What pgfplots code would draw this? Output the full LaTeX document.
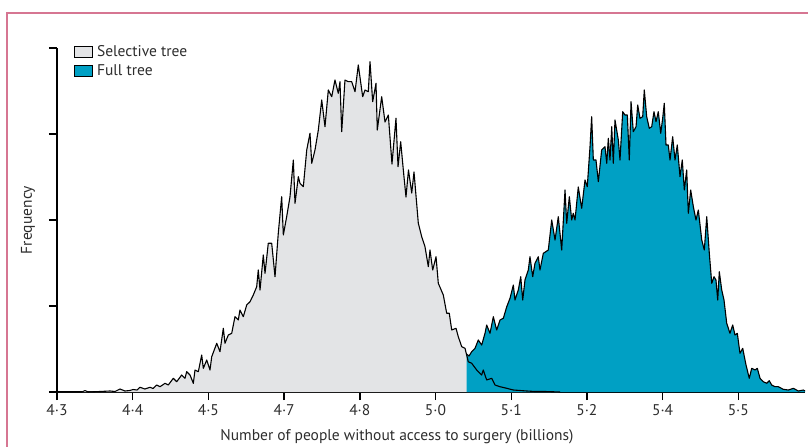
\documentclass[border=0pt]{standalone}
\usepackage{fontspec}
\setmainfont{PT Sans}
\usepackage{pgfplots}
\usepackage{pgfplotstable}
\pgfplotsset{compat=1.18}
\definecolor{selgrey}{RGB}{227,228,230}
\definecolor{fullblue}{RGB}{0,160,196}
\definecolor{framepink}{RGB}{214,118,146}
\definecolor{txt}{RGB}{45,45,45}

\pgfplotstableread{
x y
4.3000 0
4.3238 0
4.3330 0
4.3370 1.5
4.3410 0
4.3568 0.5
4.3700 1
4.3766 0.5
4.3832 3
4.3898 1
4.3964 1.5
4.4004 2.5
4.4057 2
4.4096 4.7
4.4162 3
4.4229 4.7
4.4268 3.5
4.4317 7
4.4361 5.3
4.4427 8.7
4.4470 7
4.4536 13.7
4.4581 10.3
4.4647 17
4.4691 13.7
4.4713 20.3
4.4757 17
4.4801 8.7
4.4823 22
4.4867 20.3
4.4911 37
4.4933 23.7
4.4978 32
4.5021 22
4.5044 35.3
4.5110 48.7
4.5153 40.3
4.5197 63.7
4.5219 48.7
4.5263 57
4.5308 58.7
4.5351 75.3
4.5395 72
4.5417 82
4.5461 75.3
4.5506 87
4.5550 90.3
4.5593 97
4.5638 105.3
4.5659 122
4.5682 102
4.5725 137
4.5748 118.7
4.5791 148.7
4.5836 148.7
4.5880 115.3
4.5923 158.7
4.5968 195.3
4.5990 157
4.6034 175.3
4.6078 195.3
4.6122 232
4.6144 188.7
4.6188 215.3
4.6210 208.7
4.6254 205.3
4.6299 242
4.6342 258.7
4.6365 228.7
4.6408 242
4.6452 262
4.6497 292
4.6540 265.3
4.6584 302
4.6629 295.3
4.6672 312
4.6716 298.7
4.6738 310.3
4.6761 260.3
4.6804 312
4.6848 310.3
4.6893 310.3
4.6937 300.3
4.6980 327
4.7038 295.3
4.7069 302
4.7112 300.3
4.7135 330.3
4.7170 290.3
4.7214 308.7
4.7231 262
4.7289 295.3
4.7333 270
4.7377 277
4.7425 228
4.7478 273.7
4.7505 225.3
4.7540 250.3
4.7575 222
4.7610 195
4.7643 222
4.7686 199
4.7716 220
4.7773 168.7
4.7818 155.3
4.7861 145.3
4.7905 125.3
4.7927 142
4.7963 122
4.8007 135.3
4.8037 108.7
4.8103 97
4.8148 78.7
4.8182 78.7
4.8214 62
4.8271 63.7
4.8301 55.3
4.8346 45.3
4.8390 43.7
4.8433 30.3
4.8478 28.7
4.8544 22
4.8610 17
4.8631 22
4.8676 12
4.8742 13.7
4.8786 7
4.8852 5.3
4.8941 3.7
4.9028 2
4.9116 1.5
4.9205 1
4.9314 0.5
4.9446 0.5
4.9645 0
}\selective

\pgfplotstableread{
x y
4.8410 38
4.8443 36
4.8478 40.3
4.8522 43.7
4.8565 52
4.8610 47
4.8654 58.7
4.8676 67
4.8720 58.7
4.8764 75.3
4.8808 62
4.8852 72
4.8896 73.7
4.8941 85.3
4.8984 93.7
4.9028 107
4.9050 92
4.9094 102
4.9126 115.3
4.9152 92
4.9182 112
4.9226 122
4.9248 135.3
4.9284 115.3
4.9314 128.7
4.9358 135.3
4.9380 122
4.9424 138.7
4.9490 142
4.9535 172
4.9579 152
4.9622 175.3
4.9667 142
4.9711 202
4.9733 168.7
4.9768 195.3
4.9799 172
4.9820 178.7
4.9843 172
4.9886 205
4.9931 183.7
4.9975 212
5.0005 205.3
5.0041 245.3
5.0063 275.3
5.0085 232
5.0120 232
5.0151 210.3
5.0195 242
5.0239 245.3
5.0262 228.7
5.0283 253.7
5.0305 232
5.0328 265.3
5.0349 228.7
5.0371 272
5.0415 252
5.0437 232
5.0473 280.3
5.0503 277
5.0534 277
5.0560 232
5.0583 290.3
5.0613 260.3
5.0649 265.3
5.0671 287
5.0701 273.7
5.0737 275.3
5.0758 302
5.0790 275.3
5.0824 263.7
5.0856 265.3
5.0886 280.3
5.0913 270.3
5.0943 280.3
5.0975 258.7
5.1001 273.7
5.1022 288.7
5.1045 247
5.1075 247
5.1098 232
5.1133 255.3
5.1164 232
5.1194 247
5.1230 215.3
5.1260 232
5.1287 202
5.1318 222
5.1340 178.7
5.1371 202
5.1406 185.3
5.1441 172
5.1472 182
5.1517 152
5.1551 142
5.1583 175.3
5.1617 138.7
5.1649 108.7
5.1679 115.3
5.1705 112
5.1728 92
5.1749 120.3
5.1781 102
5.1811 92
5.1847 68.7
5.1890 58.7
5.1926 67
5.1956 57
5.1987 58.7
5.2022 38.7
5.2058 43.7
5.2102 27
5.2145 13.7
5.2177 23.7
5.2221 22
5.2251 23.7
5.2287 13.7
5.2330 10.3
5.2375 8.7
5.2409 11.3
5.2441 7
5.2485 5.3
5.2528 5.3
5.2594 2.7
5.2661 2
5.2727 3.7
5.2793 1
5.2859 2
5.2881 1
}\fulltree

\begin{document}
\begin{tikzpicture}[font=\fontsize{15.5bp}{18bp}\selectfont]
\path[use as bounding box] (0,0) rectangle (808bp,447bp);
\begin{axis}[
  at={(57bp,55bp)}, anchor=south west,
  scale only axis, width=748bp, height=344bp,
  xmin=4.3, xmax=5.2881, ymin=0, ymax=344,
  axis lines=left,
  axis line style={-, line width=1.4bp, black},
  xtick={4.3,4.4,4.5,4.6,4.7,4.8,4.9,5.0,5.1,5.2},
  xticklabels={4·3,4·4,4·5,4·7,4·8,5·0,5·1,5·2,5·4,5·5},
  ytick={0,86,172,258,344},
  yticklabels={},
  tick align=outside,
  major tick length=8bp,
  tick style={line width=1.4bp, black},
  xticklabel style={text=txt, inner sep=0pt, anchor=north, yshift=-4.5bp},
  xlabel={Number of people without access to surgery (billions)},
  xlabel style={at={(rel axis cs:0.4545,-0.108)}, anchor=north, inner sep=0pt, text=txt},
  ylabel={Frequency},
  ylabel style={at={(rel axis cs:-0.0388,0.5)}, anchor=center, inner sep=0pt, text=txt},
  legend cell align=left,
  legend image code/.code={\draw[#1, draw=black, line width=0.8bp] (0bp,-5.5bp) rectangle (18bp,5.5bp); \path (21bp,0bp);},
  legend style={at={(rel axis cs:0.022,1.014)}, anchor=north west, draw=none, fill=none,
    inner sep=0pt, row sep=2.5bp, text=txt,
    nodes={inner sep=2bp}},
  clip=false,
]
\addplot[fill=selgrey, draw=none] table {\selective} \closedcycle;
\addlegendentry{Selective tree}
\addplot[fill=fullblue, draw=none] table {\fulltree} \closedcycle;
\addlegendentry{Full tree}
\addplot[black, line width=1.1bp, line join=round, forget plot] table {\selective};
\addplot[black, line width=1.1bp, line join=round, forget plot] table {\fulltree};
\end{axis}
\draw[framepink, line width=1.5bp] (7bp,0) -- (7bp,434bp) -- (808bp,434bp);
\end{tikzpicture}
\end{document}
